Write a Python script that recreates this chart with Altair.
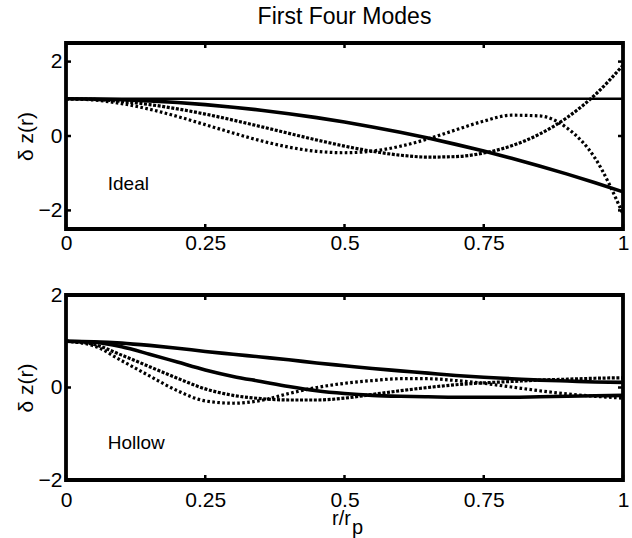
import altair as alt
import pandas as pd

# ---------------- data ----------------
r = [0.0, 0.05, 0.1, 0.15, 0.2, 0.25, 0.3, 0.35, 0.4, 0.45, 0.5,
     0.55, 0.6, 0.65, 0.7, 0.75, 0.8, 0.85, 0.9, 0.95, 1.0]

ideal_mode1 = [1.0, 1.0, 1.0, 1.0, 1.0, 1.0, 1.0, 1.0, 1.0, 1.0, 1.0,
               1.0, 1.0, 1.0, 1.0, 1.0, 1.0, 1.0, 1.0, 1.0, 1.0]
ideal_mode2 = [1.0, 0.994, 0.975, 0.944, 0.9, 0.844, 0.775, 0.694, 0.6, 0.494, 0.375,
               0.244, 0.1, -0.056, -0.225, -0.406, -0.6, -0.806, -1.025, -1.256, -1.5]
ideal_mode3 = [1.0, 0.982, 0.93, 0.845, 0.73, 0.589, 0.427, 0.252, 0.072, -0.107, -0.271,
               -0.412, -0.515, -0.567, -0.553, -0.458, -0.263, 0.05, 0.501, 1.11, 1.9]
ideal_mode4 = [1.0, 0.967, 0.871, 0.719, 0.525, 0.305, 0.08, -0.129, -0.299, -0.412, -0.45,
               -0.405, -0.276, -0.077, 0.165, 0.401, 0.559, 0.539, 0.21, -0.599, -2.1]

hollow_mode1 = [1.0, 0.99, 0.96, 0.91, 0.85, 0.78, 0.72, 0.66, 0.6, 0.53, 0.47,
                0.41, 0.36, 0.31, 0.26, 0.22, 0.19, 0.16, 0.14, 0.12, 0.11]
hollow_mode2 = [1.0, 0.98, 0.88, 0.72, 0.55, 0.38, 0.24, 0.13, 0.02, -0.07, -0.13,
                -0.17, -0.19, -0.2, -0.21, -0.21, -0.21, -0.2, -0.19, -0.18, -0.17]
hollow_mode3 = [1.0, 0.93, 0.7, 0.45, 0.2, -0.03, -0.17, -0.24, -0.27, -0.27, -0.23,
                -0.15, -0.07, 0.0, 0.06, 0.1, 0.13, 0.16, 0.18, 0.2, 0.21]
hollow_mode4 = [1.0, 0.9, 0.58, 0.25, -0.07, -0.29, -0.34, -0.28, -0.13, 0.0, 0.09,
                0.15, 0.19, 0.19, 0.15, 0.09, 0.01, -0.07, -0.14, -0.19, -0.23]

x_ticks = [0, 0.25, 0.5, 0.75, 1]
y_ticks = [-2, 0, 2]
panel_labels = ["Ideal", "Hollow"]
label_r = [0.075, 0.075]
label_v = [-1.28, -1.21]

FONT = "Liberation Sans"
FS = 21
FS_TITLE = 23
FS_TXT = 19
W = 557
H1 = 186
H2 = 185

XLABEL = "'' + datum.value"
YLABEL = "datum.value < 0 ? '\u2212' + abs(datum.value) : '' + datum.value"


def panel(modes, ydomain, height, label, lr, lv, widths, title=None, xpad=4, bottom=False):
    xs = alt.Scale(domain=[0, 1], nice=False, zero=False)
    ys = alt.Scale(domain=ydomain, nice=False, zero=False)
    xaxis = alt.Axis(values=x_ticks, title=None, domain=False, ticks=False,
                     grid=False, labelFont=FONT, labelFontSize=FS, labelExpr=XLABEL,
                     labelColor="black", labelPadding=xpad, labelFlush=False)
    yaxis = alt.Axis(values=y_ticks, title="δ z(r)", domain=False, ticks=False,
                     grid=False, labelFont=FONT, labelFontSize=FS, labelExpr=YLABEL,
                     labelColor="black", labelPadding=4,
                     titleFont=FONT, titleFontSize=FS, titleFontWeight="normal",
                     titleColor="black", titlePadding=2)
    styles = [
        dict(strokeWidth=widths[0]),
        dict(strokeWidth=widths[1]),
        dict(strokeWidth=3.2, strokeDash=[3, 1.6]),
        dict(strokeWidth=3.2, strokeDash=[2.6, 2.4]),
    ]
    layers = []
    for vals, st in zip(modes, styles):
        df = pd.DataFrame({"r": r, "v": vals})
        layers.append(alt.Chart(df).mark_line(color="black", interpolate="monotone",
                                              clip=True, **st).encode(
            x=alt.X("r:Q", scale=xs, axis=xaxis),
            y=alt.Y("v:Q", scale=ys, axis=yaxis)))
    # thick frame
    fr = pd.DataFrame({"k": [0]})
    layers.append(alt.Chart(fr).mark_rect(filled=False, stroke="black", strokeWidth=3.8).encode(
        x=alt.value(0), x2=alt.value(W), y=alt.value(0), y2=alt.value(height)))
    # inward tick marks (MATLAB style)
    tx = pd.DataFrame({"r": x_ticks})
    ty = pd.DataFrame({"v": y_ticks})
    layers.append(alt.Chart(tx).mark_rule(color="black", strokeWidth=2.5).encode(
        x=alt.X("r:Q", scale=xs, axis=xaxis), y=alt.value(height), y2=alt.value(height - 5)))
    layers.append(alt.Chart(tx).mark_rule(color="black", strokeWidth=2.5).encode(
        x=alt.X("r:Q", scale=xs, axis=xaxis), y=alt.value(0), y2=alt.value(5)))
    layers.append(alt.Chart(ty).mark_rule(color="black", strokeWidth=2.5).encode(
        y=alt.Y("v:Q", scale=ys, axis=yaxis), x=alt.value(0), x2=alt.value(5)))
    layers.append(alt.Chart(ty).mark_rule(color="black", strokeWidth=2.5).encode(
        y=alt.Y("v:Q", scale=ys, axis=yaxis), x=alt.value(W), x2=alt.value(W - 5)))
    # panel label
    ld = pd.DataFrame({"r": [lr], "v": [lv], "txt": [label]})
    layers.append(alt.Chart(ld).mark_text(font=FONT, fontSize=FS_TXT, align="left",
                                          baseline="middle", color="black").encode(
        x=alt.X("r:Q", scale=xs, axis=xaxis), y=alt.Y("v:Q", scale=ys, axis=yaxis),
        text="txt:N"))
    if bottom:
        t1 = pd.DataFrame({"txt": ["r/r"]})
        t2 = pd.DataFrame({"txt": ["p"]})
        layers.append(alt.Chart(t1).mark_text(font=FONT, fontSize=20, align="right",
                                              baseline="middle", color="black").encode(
            x=alt.value(285), y=alt.value(height + 39), text="txt:N"))
        layers.append(alt.Chart(t2).mark_text(font=FONT, fontSize=20, align="left",
                                              baseline="middle", color="black").encode(
            x=alt.value(286), y=alt.value(height + 48), text="txt:N"))
    props = dict(width=W, height=height)
    if title is not None:
        props["title"] = alt.TitleParams(title, font=FONT, fontSize=FS_TITLE, fontWeight="normal",
                                         color="black", anchor="middle", frame="group",
                                         offset=8, dy=-4)
    return alt.layer(*layers).properties(**props)


top = panel([ideal_mode1, ideal_mode2, ideal_mode3, ideal_mode4], [-2.5, 2.5], H1,
            panel_labels[0], label_r[0], label_v[0], widths=[2.4, 3.6],
            title="First Four Modes", xpad=3)
bot = panel([hollow_mode1, hollow_mode2, hollow_mode3, hollow_mode4], [-2, 2], H2,
            panel_labels[1], label_r[1], label_v[1], widths=[3.6, 3.6], xpad=9, bottom=True)

chart = alt.vconcat(top, bot, spacing=31).properties(
    padding={"left": 15, "top": 6, "right": 0, "bottom": 0},
    background="white",
).configure_view(stroke=None).configure_concat(spacing=31)

chart.save("out.html", embed_options={"renderer": "svg", "actions": False})
